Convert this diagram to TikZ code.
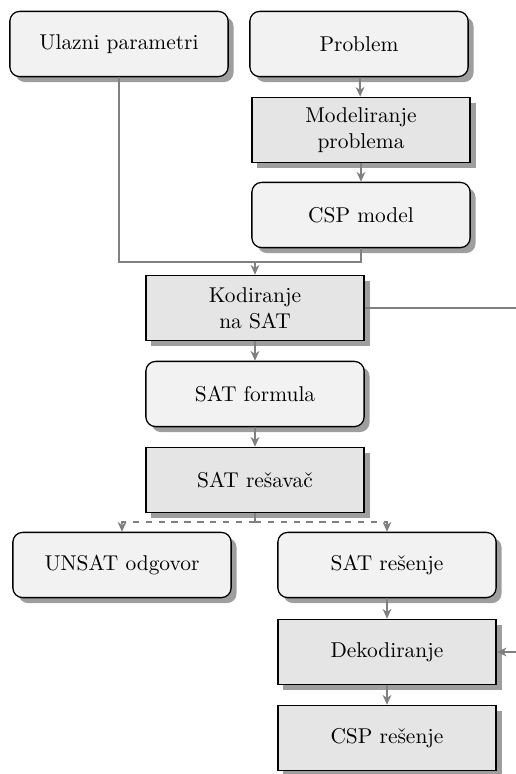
\documentclass[tikz,border=0pt]{standalone}
\usetikzlibrary{shadows,arrows.meta}
\begin{document}
\begin{tikzpicture}[x=0.0164cm,y=-0.0164cm,
    podatak/.style={draw=black, line width=0.6pt, fill=gray!10, rounded corners=1.6mm,
        minimum width=3.58cm, minimum height=1.07cm, align=center,
        drop shadow={shadow xshift=0.9mm, shadow yshift=-0.9mm, fill=black!38, opacity=1}},
    korak/.style={draw=black, line width=0.6pt, fill=gray!20,
        minimum width=3.58cm, minimum height=1.07cm, align=center,
        drop shadow={shadow xshift=0.9mm, shadow yshift=-0.9mm, fill=black!38, opacity=1}},
    veza/.style={draw=black!50, line width=0.9pt, -{Stealth[length=4.5pt,width=4pt,inset=1.3pt]}}
]
\useasboundingbox (0,0) rectangle (515,774);
% ulaz
\node[podatak] (ulaz) at (119,44) {Ulazni parametri};
\node[podatak] (problem) at (359,44) {Problem};
\node[korak] (modeliranje) at (361,130) {Modeliranje\\problema};
\node[podatak] (cspmodel) at (361,215) {CSP model};
% kodiranje i resavanje
\node[korak] (kodiranje) at (255,308) {Kodiranje\\na SAT};
\node[podatak] (satformula) at (255,394) {SAT formula};
\node[korak] (resavac) at (255,480) {SAT re\v{s}ava\v{c}};
% izlaz
\node[podatak] (unsat) at (122,565) {UNSAT odgovor};
\node[podatak] (satresenje) at (387,565) {SAT re\v{s}enje};
\node[korak] (dekodiranje) at (387,652) {Dekodiranje};
\node[korak] (cspresenje) at (387,738) {CSP re\v{s}enje};
\coordinate (spoj) at (255,262);
\coordinate (grana) at (255,522);
\coordinate (desno) at (545,308);

\draw[veza] (problem) -- (modeliranje);
\draw[veza] (modeliranje) -- (cspmodel);
\draw[draw=black!50, line width=0.9pt] (ulaz.south) |- (spoj);
\draw[veza] (cspmodel.south) |- (spoj) -- (kodiranje.north);
\draw[veza] (kodiranje) -- (satformula);
\draw[veza] (satformula) -- (resavac);
\draw[draw=black!50, line width=0.9pt] (resavac.south) -- (grana);
\draw[veza, dashed] (grana) -| (unsat.north);
\draw[veza, dashed] (grana) -| (satresenje.north);
\draw[veza] (satresenje) -- (dekodiranje);
\draw[veza] (dekodiranje) -- (cspresenje);
\draw[veza] (kodiranje.east) -- (desno) |- (dekodiranje.east);
\end{tikzpicture}
\end{document}
